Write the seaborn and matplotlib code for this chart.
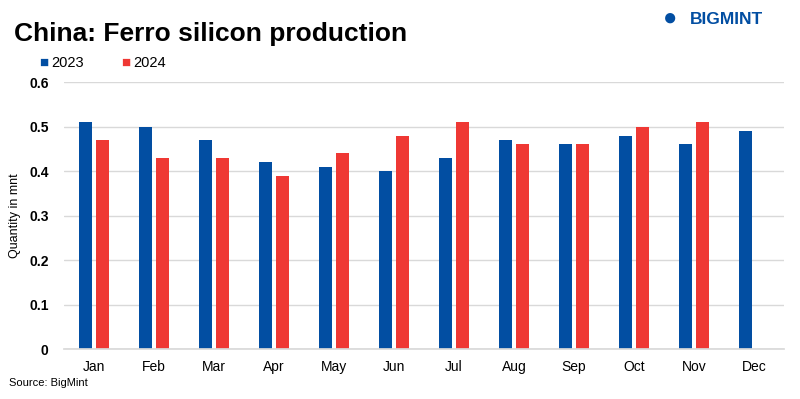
import pandas as pd
import numpy as np
import matplotlib.pyplot as plt
import seaborn as sns

# data (mnt)
months = ['Jan', 'Feb', 'Mar', 'Apr', 'May', 'Jun', 'Jul', 'Aug', 'Sep', 'Oct', 'Nov', 'Dec']
prod_2023 = [0.51, 0.50, 0.47, 0.42, 0.41, 0.40, 0.43, 0.47, 0.46, 0.48, 0.46, 0.49]
prod_2024 = [0.47, 0.43, 0.43, 0.39, 0.44, 0.48, 0.51, 0.46, 0.46, 0.50, 0.51, np.nan]
years = ['2023', '2024']
colors = ['#024ea2', '#ef3834']

df = pd.DataFrame({
    'Month': months * 2,
    'Year': [years[0]] * 12 + [years[1]] * 12,
    'Value': prod_2023 + prod_2024,
})

sns.set_theme(style='white')
plt.rcParams['font.family'] = ['Liberation Sans', 'DejaVu Sans']
plt.rcParams['text.color'] = 'black'
plt.rcParams['axes.labelcolor'] = 'black'
plt.rcParams['xtick.color'] = 'black'
plt.rcParams['ytick.color'] = 'black'

fig = plt.figure(figsize=(8, 3.99), dpi=100)
ax = fig.add_axes([0.08, 0.125, 0.9, 0.669])

sns.barplot(data=df, x='Month', y='Value', hue='Year', order=months,
            palette=colors, saturation=1, width=0.55, gap=0.2, linewidth=0,
            ax=ax, legend=False)

ax.set_ylim(0, 0.6)
ax.set_xlim(-0.5, 11.5)
ax.set_yticks(np.arange(0, 0.61, 0.1))
ax.set_yticklabels(['0', '0.1', '0.2', '0.3', '0.4', '0.5', '0.6'],
                   fontsize=10, fontweight='bold')
ax.yaxis.grid(True, color='#d9d9d9', linewidth=1)
ax.set_axisbelow(True)
for s in ['top', 'right', 'left']:
    ax.spines[s].set_visible(False)
ax.spines['bottom'].set_color('#d9d9d9')
ax.tick_params(axis='both', length=0)
ax.tick_params(axis='x', labelsize=10, pad=8)
ax.tick_params(axis='y', pad=11)
ax.set_xlabel('')
ax.set_ylabel('Quantity in mnt', fontsize=9, labelpad=6)

# title, legend, source, logo
fig.text(0.018, 0.915, 'China: Ferro silicon production', fontsize=19,
         fontweight='bold', va='center', ha='left')
for i, (yr, c) in enumerate(zip(years, colors)):
    x0 = 0.049 + i * 0.102
    fig.text(x0, 0.842, '\u25A0', color=c, fontsize=11, va='center', ha='left')
    fig.text(x0 + 0.015, 0.842, yr, fontsize=10.5, va='center', ha='left')
fig.text(0.011, 0.04, 'Source: BigMint', fontsize=8, va='center', ha='left')
fig.text(0.838, 0.952, '\u25CF', color='#024ea2', fontsize=17, va='center', ha='center')
fig.text(0.862, 0.952, 'BIGMINT', color='#024ea2', fontsize=12.5, fontweight='bold',
         va='center', ha='left')

plt.savefig('out.png', dpi=100)
